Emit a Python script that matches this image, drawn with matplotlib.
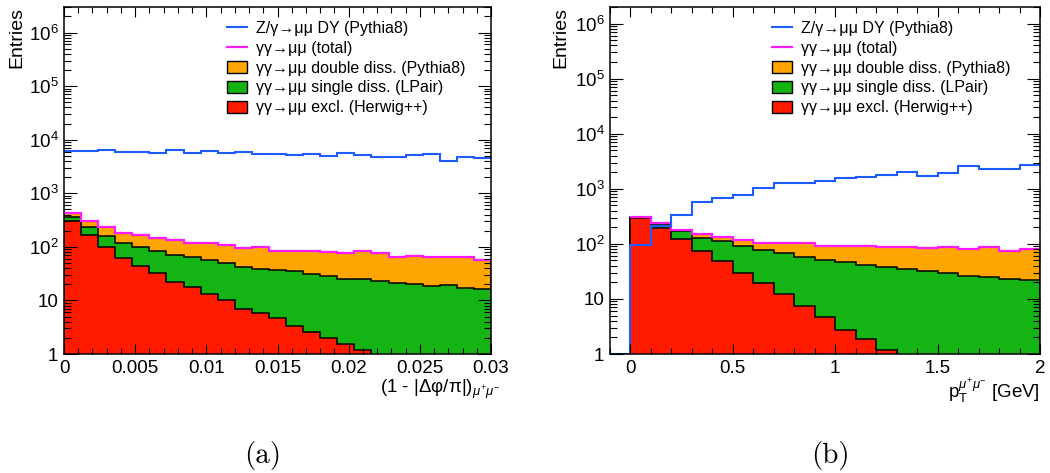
import matplotlib
matplotlib.use('Agg')
import matplotlib.pyplot as plt
from matplotlib.lines import Line2D
from matplotlib.patches import Patch
from matplotlib.ticker import MultipleLocator, LogLocator, FuncFormatter, NullFormatter, FormatStrFormatter
import numpy as np

plt.rcParams['font.family'] = ['Liberation Sans', 'DejaVu Sans']
plt.rcParams['mathtext.fontset'] = 'custom'
plt.rcParams['mathtext.rm'] = 'Liberation Sans'
plt.rcParams['mathtext.it'] = 'Liberation Sans:italic'
plt.rcParams['mathtext.bf'] = 'Liberation Sans:bold'

# (a) acoplanarity 1 - |dphi/pi|, 25 bins from 0 to 0.03
acop_range = (0.0, 0.03)
acop_nbins = 25
acop_dy = [6050, 6050, 6410, 5800, 5970, 5560, 6320, 5560, 6050, 5640, 5870, 5400, 5320,
           5240, 5470, 5020, 5640, 5090, 4740, 4740, 5090, 5470, 4050, 4670, 4480]
acop_excl = [298, 168, 99, 61, 44, 32, 22.5, 17.6, 13.0, 10.0, 6.9, 5.75, 4.6,
             3.4, 2.6, 2.0, 1.52, 1.19, 0, 0, 0, 0, 0, 0, 0]
acop_single = [61, 65, 62, 59, 55, 52, 48.5, 46.4, 43, 40, 35.1, 33.3, 32.4,
               31.6, 28.4, 27, 23.5, 23.8, 23.5, 21.5, 20, 18.7, 19, 17.1, 16.2]
acop_double = [67, 65, 69, 65, 69, 65, 64, 53, 61, 59, 55, 59, 45,
               49, 54, 52, 51, 59, 52.5, 44.5, 47, 47.3, 47, 48.9, 40.8]

# (b) dimuon pT, 21 bins from -0.1 to 2 GeV
pt_range = (-0.1, 2.0)
pt_nbins = 21
pt_dy = [0, 95, 215, 332, 565, 677, 778, 1030, 1270, 1270, 1360, 1560, 1630,
         1800, 2010, 1680, 1930, 2550, 2310, 2290, 2650]
pt_excl = [0, 289, 198, 120, 75, 49, 30, 19.8, 12.2, 7.4, 4.7, 2.7, 1.9,
           1.2, 0, 0, 0, 0, 0, 0, 0]
pt_single = [0, 7, 30, 50, 54, 63, 61, 57.2, 54.8, 50.6, 46.3, 44.3, 40.1,
             36.8, 35, 32, 29, 26, 25, 23.4, 22.5]
pt_double = [0, 14, 16, 7, 25, 22, 26, 27, 37, 46, 39, 44, 49,
             50, 52, 51, 59, 53, 61, 51.6, 58.5]

labels = ['Z/γ→μμ DY (Pythia8)', 'γγ→μμ (total)', 'γγ→μμ double diss. (Pythia8)',
          'γγ→μμ single diss. (LPair)', 'γγ→μμ excl. (Herwig++)']

C_DY = '#1f5cff'
C_TOT = '#ff1aff'
C_DD = '#ffa500'
C_SD = '#14b414'
C_EX = '#ff1a00'

YMIN = 1.0


def log_label(v, pos):
    e = int(round(np.log10(v)))
    if e == 0:
        return '1'
    if e == 1:
        return '10'
    return r'$10^{%d}$' % e


def draw_panel(ax, rng, nbins, dy, excl, single, double, ymax):
    edges = np.linspace(rng[0], rng[1], nbins + 1)
    excl = np.array(excl, dtype=float)
    sd_stack = excl + np.array(single)
    total = sd_stack + np.array(double)

    # stack is drawn top-down so the lower components sit in front
    ax.stairs(total, edges, fill=True, facecolor=C_DD, edgecolor='black', linewidth=1.1, baseline=YMIN)
    ax.stairs(sd_stack, edges, fill=True, facecolor=C_SD, edgecolor='black', linewidth=1.1, baseline=YMIN)
    ax.stairs(excl, edges, fill=True, facecolor=C_EX, edgecolor='black', linewidth=1.1, baseline=YMIN)

    nz = np.nonzero(total)[0]
    ax.stairs(total[nz[0]:], edges[nz[0]:], color=C_TOT, linewidth=1.6, baseline=None)
    ax.stairs(np.maximum(dy, YMIN), edges, color=C_DY, linewidth=1.5, baseline=None)

    ax.set_yscale('log')
    ax.set_xlim(rng)
    ax.set_ylim(YMIN, ymax)

    ax.yaxis.set_major_locator(LogLocator(base=10, numticks=10))
    ax.yaxis.set_minor_locator(LogLocator(base=10, subs=np.arange(2, 10), numticks=100))
    ax.yaxis.set_major_formatter(FuncFormatter(log_label))
    ax.yaxis.set_minor_formatter(NullFormatter())
    ax.xaxis.set_major_formatter(FormatStrFormatter('%g'))

    ax.tick_params(which='both', direction='in', top=True, right=True, labelsize=13.5, width=0.8)
    ax.tick_params(axis='y', which='major', length=9.5, pad=4)
    ax.tick_params(axis='y', which='minor', length=5)
    ax.tick_params(axis='x', which='major', length=7.5, pad=4.5)
    ax.tick_params(axis='x', which='minor', length=4)
    for s in ax.spines.values():
        s.set_linewidth(1.1)

    ax.set_ylabel('Entries', fontsize=14, loc='top')

    handles = [Line2D([], [], color=C_DY, linewidth=1.5),
               Line2D([], [], color=C_TOT, linewidth=1.6),
               Patch(facecolor=C_DD, edgecolor='black', linewidth=1.0),
               Patch(facecolor=C_SD, edgecolor='black', linewidth=1.0),
               Patch(facecolor=C_EX, edgecolor='black', linewidth=1.0)]
    return handles


def add_legend(ax, handles, x0):
    ax.legend(handles, labels, loc='upper left', bbox_to_anchor=(x0, (354 - 21) / 347),
              frameon=False, fontsize=11.5, handlelength=1.25, handleheight=0.8, handletextpad=0.55,
              labelspacing=0.3, borderpad=0, borderaxespad=0)


fig = plt.figure(figsize=(10.5, 4.73), dpi=100)
ax_a = fig.add_axes([64 / 1050, 1 - 354 / 473, 427 / 1050, 347 / 473])
ax_b = fig.add_axes([610 / 1050, 1 - 354 / 473, 430 / 1050, 347 / 473])

h = draw_panel(ax_a, acop_range, acop_nbins, acop_dy, acop_excl, acop_single, acop_double, 3.0e6)
ax_a.xaxis.set_major_locator(MultipleLocator(0.005))
ax_a.xaxis.set_minor_locator(MultipleLocator(0.001))
ax_a.yaxis.set_label_coords(-0.091, 1.0)
ax_a.set_xlabel(r'(1 - |Δφ/π|)$_{μ^{+}μ^{-}}$', fontsize=13.5, loc='right')
ax_a.xaxis.set_label_coords(1.021, -0.07)
add_legend(ax_a, h, (227 - 64) / 427)

h = draw_panel(ax_b, pt_range, pt_nbins, pt_dy, pt_excl, pt_single, pt_double, 2.0e6)
ax_b.xaxis.set_major_locator(MultipleLocator(0.5))
ax_b.xaxis.set_minor_locator(MultipleLocator(0.1))
ax_b.yaxis.set_label_coords(-0.095, 1.0)
ax_b.set_xlabel(r'p$_{\mathrm{T}}^{μ^{+}μ^{-}}$ [GeV]', fontsize=13.5, loc='right')
ax_b.xaxis.set_label_coords(1.0, -0.064)
add_legend(ax_b, h, (772 - 610) / 430)

fig.text(263 / 1050, 1 - 455 / 473, '(a)', ha='center', va='center', fontfamily='cmr10', fontsize=21)
fig.text(830 / 1050, 1 - 455 / 473, '(b)', ha='center', va='center', fontfamily='cmr10', fontsize=21)

fig.savefig('out.png', dpi=100)
